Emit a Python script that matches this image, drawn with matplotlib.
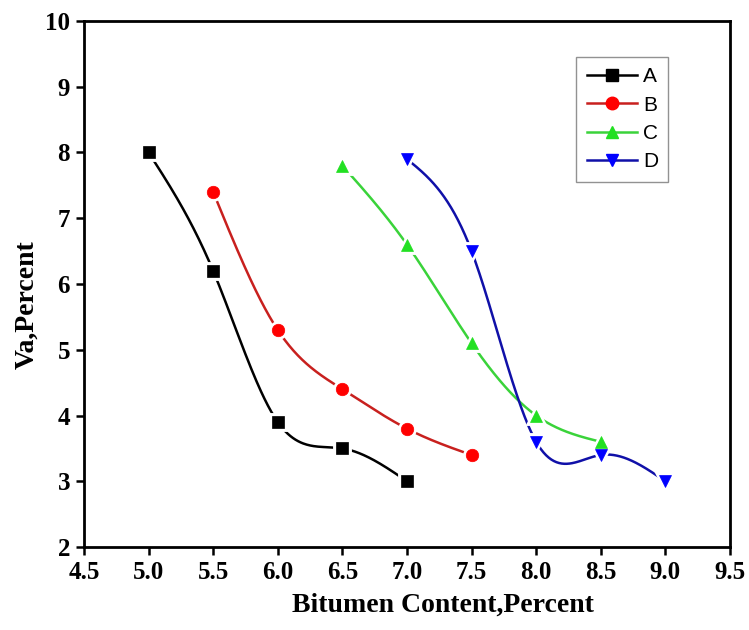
import numpy as np
import matplotlib
matplotlib.use("Agg")
import matplotlib.pyplot as plt
from matplotlib.lines import Line2D

# ---------------------------------------------------------------------------- #
#                                     DATA                                     #
# ---------------------------------------------------------------------------- #

labels = ["A", "B", "C", "D"]
x_a = [5.0, 5.5, 6.0, 6.5, 7.0]
y_a = [8.0, 6.2, 3.9, 3.5, 3.0]
x_b = [5.5, 6.0, 6.5, 7.0, 7.5]
y_b = [7.4, 5.3, 4.4, 3.8, 3.4]
x_c = [6.5, 7.0, 7.5, 8.0, 8.5]
y_c = [7.8, 6.6, 5.1, 4.0, 3.6]
x_d = [7.0, 7.5, 8.0, 8.5, 9.0]
y_d = [7.9, 6.5, 3.6, 3.4, 3.0]
x_ticks = [4.5, 5.0, 5.5, 6.0, 6.5, 7.0, 7.5, 8.0, 8.5, 9.0, 9.5]
y_ticks = [2, 3, 4, 5, 6, 7, 8, 9, 10]


# ---------------------------------------------------------------------------- #
#                                   FUNCTIONS                                  #
# ---------------------------------------------------------------------------- #

def natural_spline(x, y, n=300):
    # natural cubic spline through the points, like Origin's spline connector
    x = np.asarray(x, float)
    y = np.asarray(y, float)
    k = len(x)
    h = np.diff(x)
    A = np.zeros((k, k))
    r = np.zeros(k)
    A[0, 0] = A[-1, -1] = 1
    for i in range(1, k - 1):
        A[i, i - 1] = h[i - 1]
        A[i, i] = 2 * (h[i - 1] + h[i])
        A[i, i + 1] = h[i]
        r[i] = 3 * ((y[i + 1] - y[i]) / h[i] - (y[i] - y[i - 1]) / h[i - 1])
    c = np.linalg.solve(A, r)
    xs = np.linspace(x[0], x[-1], n)
    ys = np.empty_like(xs)
    for j, xv in enumerate(xs):
        i = min(np.searchsorted(x, xv, side="right") - 1, k - 2)
        b = (y[i + 1] - y[i]) / h[i] - h[i] * (2 * c[i] + c[i + 1]) / 3
        d = (c[i + 1] - c[i]) / (3 * h[i])
        t = xv - x[i]
        ys[j] = y[i] + b * t + c[i] * t ** 2 + d * t ** 3
    return xs, ys


# ---------------------------------------------------------------------------- #
#                                    SCRIPT                                    #
# ---------------------------------------------------------------------------- #

fig = plt.figure(figsize=(7.49, 6.30), dpi=100)
ax = fig.add_axes([0.1121, 0.1317, 0.8625, 0.8350])

series = [(x_a, y_a), (x_b, y_b), (x_c, y_c), (x_d, y_d)]
line_cols = ["#000000", "#c8201e", "#3ad33a", "#1010a8"]
mark_cols = ["#000000", "#ff0000", "#22e022", "#0000ff"]
markers = ["s", "o", "^", "v"]

handles = []
for (xs, ys), lab, lc, mc, m in zip(series, labels, line_cols, mark_cols, markers):
    sx, sy = natural_spline(xs, ys)
    ax.plot(sx, sy, color=lc, lw=1.8, zorder=2)
    ax.plot(xs, ys, ls="none", marker=m, ms=10, mfc=mc, mec="white", mew=3.5, zorder=3)
    ax.plot(xs, ys, ls="none", marker=m, ms=9, mfc=mc, mec=mc, mew=0.5, zorder=4)
    handles.append(Line2D([], [], color=lc, lw=1.8, marker=m, ms=9, mfc=mc, mec=mc))

ax.set_xlim(4.5, 9.5)
ax.set_ylim(2, 10)
ax.set_xticks(x_ticks)
ax.set_xticklabels([f"{v:.1f}" for v in x_ticks])
ax.set_yticks(y_ticks)
ax.set_yticklabels([str(v) for v in y_ticks])

serif = "Liberation Serif"
for lbl in ax.get_xticklabels() + ax.get_yticklabels():
    lbl.set_fontfamily(serif)
    lbl.set_fontweight("bold")
    lbl.set_fontsize(18)
ax.tick_params(direction="out", length=6, width=1.8, pad=4)
for sp in ax.spines.values():
    sp.set_linewidth(2.0)

fig.text(443 / 749, 1 - 605 / 630, "Bitumen Content,Percent", fontfamily=serif,
         fontweight="bold", fontsize=20, ha="center", va="center")
fig.text(27 / 749, 1 - 305 / 630, "Va,Percent", fontfamily=serif,
         fontweight="bold", fontsize=20, ha="center", va="center", rotation=90)

leg = ax.legend(handles, labels, loc="upper left", bbox_to_anchor=(0.762, 0.932),
                prop={"family": "Liberation Sans", "size": 15}, fancybox=False,
                frameon=True, borderpad=0.5, handlelength=2.4, labelspacing=0.45,
                handletextpad=0.3, borderaxespad=0)
leg.get_frame().set_edgecolor("#777777")
leg.get_frame().set_linewidth(1.0)

plt.savefig("out.png", dpi=100)
